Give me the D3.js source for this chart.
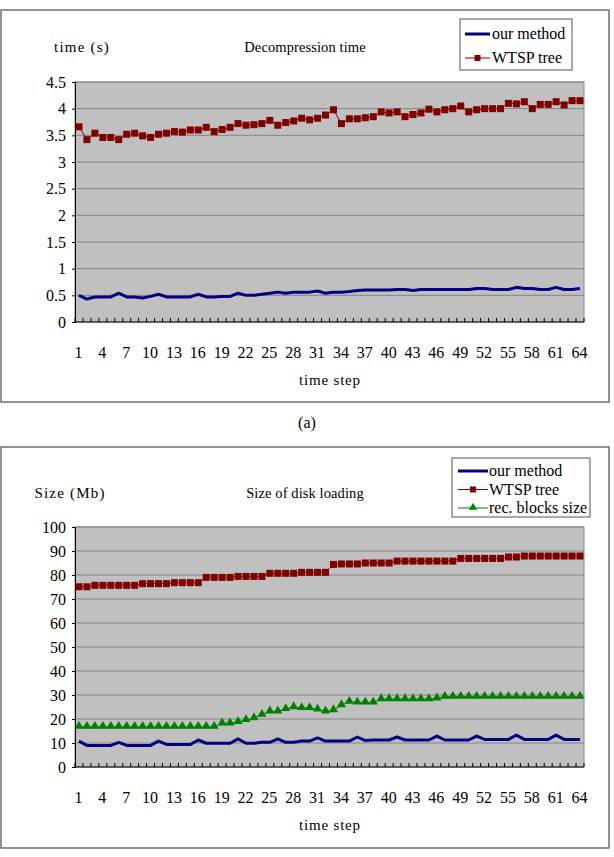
<!DOCTYPE html>
<html><head><meta charset="utf-8">
<script src="https://cdn.jsdelivr.net/npm/d3@7"></script>
<style>body{margin:0;background:#fff}svg{display:block}text{font-family:"Liberation Serif","Times New Roman",serif;fill:#000}</style>
</head><body>
<script>
const steps = d3.range(1, 65);
const xTickLabels = d3.range(1, 65, 3);

const decompOurMethod = [0.50,0.43,0.47,0.47,0.47,0.54,0.47,0.47,0.45,0.48,0.52,0.47,0.47,0.47,0.47,0.52,0.47,0.47,0.48,0.48,0.54,0.50,0.50,0.52,0.54,0.56,0.54,0.56,0.56,0.56,0.58,0.54,0.56,0.56,0.57,0.59,0.60,0.60,0.60,0.60,0.61,0.61,0.59,0.61,0.61,0.61,0.61,0.61,0.61,0.61,0.63,0.63,0.61,0.61,0.61,0.65,0.63,0.63,0.61,0.61,0.65,0.61,0.61,0.63];
const decompWTSP = [3.66,3.42,3.54,3.46,3.46,3.42,3.52,3.54,3.49,3.46,3.52,3.54,3.57,3.56,3.60,3.60,3.65,3.57,3.61,3.65,3.72,3.69,3.70,3.72,3.78,3.69,3.74,3.77,3.82,3.79,3.82,3.88,3.98,3.72,3.81,3.81,3.83,3.85,3.94,3.92,3.94,3.85,3.89,3.92,3.99,3.94,3.98,4.00,4.05,3.94,3.98,4.00,4.00,4.00,4.10,4.09,4.13,4.00,4.08,4.08,4.13,4.07,4.15,4.15];
const decompYTicks = [0,0.5,1,1.5,2,2.5,3,3.5,4,4.5];

const diskOurMethod = [10.8,9.0,9.0,9.0,9.0,10.3,9.0,9.0,9.0,9.0,10.8,9.4,9.4,9.4,9.4,11.25,9.9,9.9,9.9,9.9,11.7,9.9,9.9,10.3,10.3,11.7,10.3,10.3,10.8,10.8,12.1,10.8,10.8,10.8,10.8,12.5,11.0,11.25,11.25,11.25,12.5,11.25,11.25,11.25,11.25,12.9,11.25,11.25,11.25,11.25,12.9,11.5,11.5,11.5,11.5,13.3,11.5,11.5,11.5,11.5,13.3,11.5,11.5,11.5];
const diskWTSP = [75.1,75.1,75.7,75.7,75.7,75.7,75.7,75.7,76.4,76.4,76.4,76.4,76.8,76.8,76.8,76.8,79.0,79.0,79.0,79.0,79.4,79.4,79.4,79.4,80.7,80.7,80.7,80.7,81.1,81.1,81.1,81.1,84.4,84.6,84.6,84.6,85.0,85.0,85.0,85.0,85.8,85.8,85.8,85.8,85.8,85.8,85.8,85.8,86.9,86.9,86.9,86.9,86.9,86.9,87.5,87.5,87.9,87.9,87.9,87.9,87.9,87.9,87.9,87.9];
const diskRecBlocks = [16.8,16.8,16.8,16.8,16.8,16.8,16.8,16.8,16.8,16.8,16.8,16.8,16.8,16.8,16.8,16.8,16.8,16.8,18.2,18.2,18.8,19.6,20.4,21.8,23.2,23.2,24.2,25.0,24.6,24.6,24.0,23.2,23.7,25.8,27.2,26.9,26.9,26.9,28.3,28.3,28.3,28.3,28.3,28.3,28.3,28.6,29.3,29.3,29.3,29.3,29.3,29.3,29.3,29.3,29.3,29.3,29.3,29.3,29.3,29.3,29.3,29.3,29.3,29.3];
const diskYTicks = [0,10,20,30,40,50,60,70,80,90,100];

const W = 614, H = 857;
const svg = d3.select("body").append("svg").attr("width", W).attr("height", H);

const NAVY = "#000080", RED = "#800000", GREEN = "#008000";
const FS = "16px";

function chart(cfg) {
  const g = svg.append("g");
  g.append("rect").attr("x", cfg.box[0]).attr("y", cfg.box[1])
    .attr("width", cfg.box[2] - cfg.box[0]).attr("height", cfg.box[3] - cfg.box[1])
    .attr("fill", "#fff").attr("stroke", "#6e6e6e").attr("stroke-width", 1.5);

  const x = d3.scaleBand().domain(steps).range([75, 584]).paddingInner(0).paddingOuter(0);
  const y = d3.scaleLinear().domain([0, cfg.yMax]).range([cfg.plotBottom, cfg.plotTop]);

  g.append("rect").attr("x", 75).attr("y", cfg.plotTop)
    .attr("width", 584 - 75).attr("height", cfg.plotBottom - cfg.plotTop)
    .attr("fill", "#c0c0c0").attr("stroke", "#8a8a8a").attr("stroke-width", 1);

  g.append("g").selectAll("line").data(cfg.yTicks.filter(d => d > 0)).join("line")
    .attr("x1", 75).attr("x2", 584).attr("y1", d => y(d)).attr("y2", d => y(d))
    .attr("stroke", "#848484").attr("stroke-width", 1);

  const yAxis = d3.axisLeft(y).tickValues(cfg.yTicks).tickSize(3).tickPadding(6).tickFormat(d => d3.format("")(d));
  const ya = g.append("g").attr("transform", "translate(75,0)").call(yAxis);
  ya.select(".domain").attr("stroke", "#000");
  ya.selectAll("text").style("font-size", FS).style("font-family", '"Liberation Serif",serif');

  g.append("line").attr("x1", 75).attr("x2", 584).attr("y1", cfg.plotBottom).attr("y2", cfg.plotBottom).attr("stroke", "#000");
  const bounds = steps.map(d => x(d)).concat([x(64) + x.bandwidth()]);
  g.append("g").selectAll("line").data(bounds).join("line")
    .attr("x1", d => d).attr("x2", d => d).attr("y1", cfg.plotBottom).attr("y2", cfg.plotBottom - 4)
    .attr("stroke", "#000").attr("stroke-width", 1);
  g.append("g").selectAll("text").data(xTickLabels).join("text")
    .attr("x", d => x(d) + x.bandwidth() / 2 - 0.5).attr("y", cfg.plotBottom + 36)
    .attr("text-anchor", "middle").style("font-size", FS).text(d => d);

  g.append("text").attr("x", 330).attr("y", cfg.plotBottom + 63).attr("text-anchor", "middle")
    .style("font-size", "15px").style("letter-spacing", "0.8px").text("time step");

  g.append("text").attr("x", cfg.yTitleX).attr("y", cfg.titleY).attr("text-anchor", "middle")
    .style("font-size", "15px").style("letter-spacing", "1.2px").text(cfg.yTitle);
  g.append("text").attr("x", 305).attr("y", cfg.titleY).attr("text-anchor", "middle")
    .style("font-size", "14.5px").style("letter-spacing", "0.1px").text(cfg.title);

  const cx = d => x(d) + x.bandwidth() / 2;
  const line = d3.line().x((v, i) => cx(steps[i])).y(v => y(v));

  cfg.series.forEach(s => {
    g.append("path").datum(s.values).attr("d", line).attr("fill", "none")
      .attr("stroke", s.color).attr("stroke-width", s.marker ? 1 : 3).attr("stroke-linejoin", "round");
    if (s.marker === "square") {
      g.append("g").selectAll("rect").data(s.values).join("rect")
        .attr("x", (v, i) => cx(steps[i]) - 3.5).attr("y", v => y(v) - 3.5)
        .attr("width", 7).attr("height", 7).attr("fill", s.color);
    } else if (s.marker === "triangle") {
      const tri = d3.symbol().type(d3.symbolTriangle).size(36);
      g.append("g").selectAll("path").data(s.values).join("path")
        .attr("transform", (v, i) => `translate(${cx(steps[i])},${y(v) - 0.5})`)
        .attr("d", tri).attr("fill", s.color);
    }
  });

  const L = cfg.legend;
  g.append("rect").attr("x", L.x).attr("y", L.y).attr("width", L.w).attr("height", L.h)
    .attr("fill", "#fff").attr("stroke", "#555").attr("stroke-width", 1);
  cfg.series.forEach((s, i) => {
    const ry = L.y + L.first + i * L.gap;
    g.append("line").attr("x1", L.x + L.l0).attr("x2", L.x + L.l1).attr("y1", ry).attr("y2", ry)
      .attr("stroke", s.color).attr("stroke-width", s.marker ? 1 : 3);
    const mx = L.x + (L.l0 + L.l1) / 2;
    if (s.marker === "square") {
      g.append("rect").attr("x", mx - 3).attr("y", ry - 3).attr("width", 6).attr("height", 6).attr("fill", s.color);
    } else if (s.marker === "triangle") {
      g.append("path").attr("transform", `translate(${mx},${ry - 0.5})`)
        .attr("d", d3.symbol().type(d3.symbolTriangle).size(28)).attr("fill", s.color);
    }
    g.append("text").attr("x", L.x + L.tx).attr("y", ry + 5).style("font-size", FS).text(s.name);
  });
}

chart({
  box: [1, 10, 609, 402], plotTop: 82, plotBottom: 322, yMax: 4.5, yTicks: decompYTicks,
  title: "Decompression time", yTitle: "time (s)", yTitleX: 82, titleY: 52,
  legend: {x: 460, y: 19, w: 112, h: 51, first: 15, gap: 24, l0: 5, l1: 30, tx: 32},
  series: [
    {name: "our method", values: decompOurMethod, color: NAVY},
    {name: "WTSP tree", values: decompWTSP, color: RED, marker: "square"}
  ]
});

chart({
  box: [1, 447, 609, 848], plotTop: 527, plotBottom: 767, yMax: 100, yTicks: diskYTicks,
  title: "Size of disk loading", yTitle: "Size (Mb)", yTitleX: 70, titleY: 498,
  legend: {x: 452, y: 458, w: 138, h: 59, first: 13, gap: 18.5, l0: 6, l1: 36, tx: 37},
  series: [
    {name: "our method", values: diskOurMethod, color: NAVY},
    {name: "WTSP tree", values: diskWTSP, color: RED, marker: "square"},
    {name: "rec. blocks size", values: diskRecBlocks, color: GREEN, marker: "triangle"}
  ]
});

svg.append("text").attr("x", 307).attr("y", 428).attr("text-anchor", "middle").style("font-size", "16px").text("(a)");
</script>
</body></html>
